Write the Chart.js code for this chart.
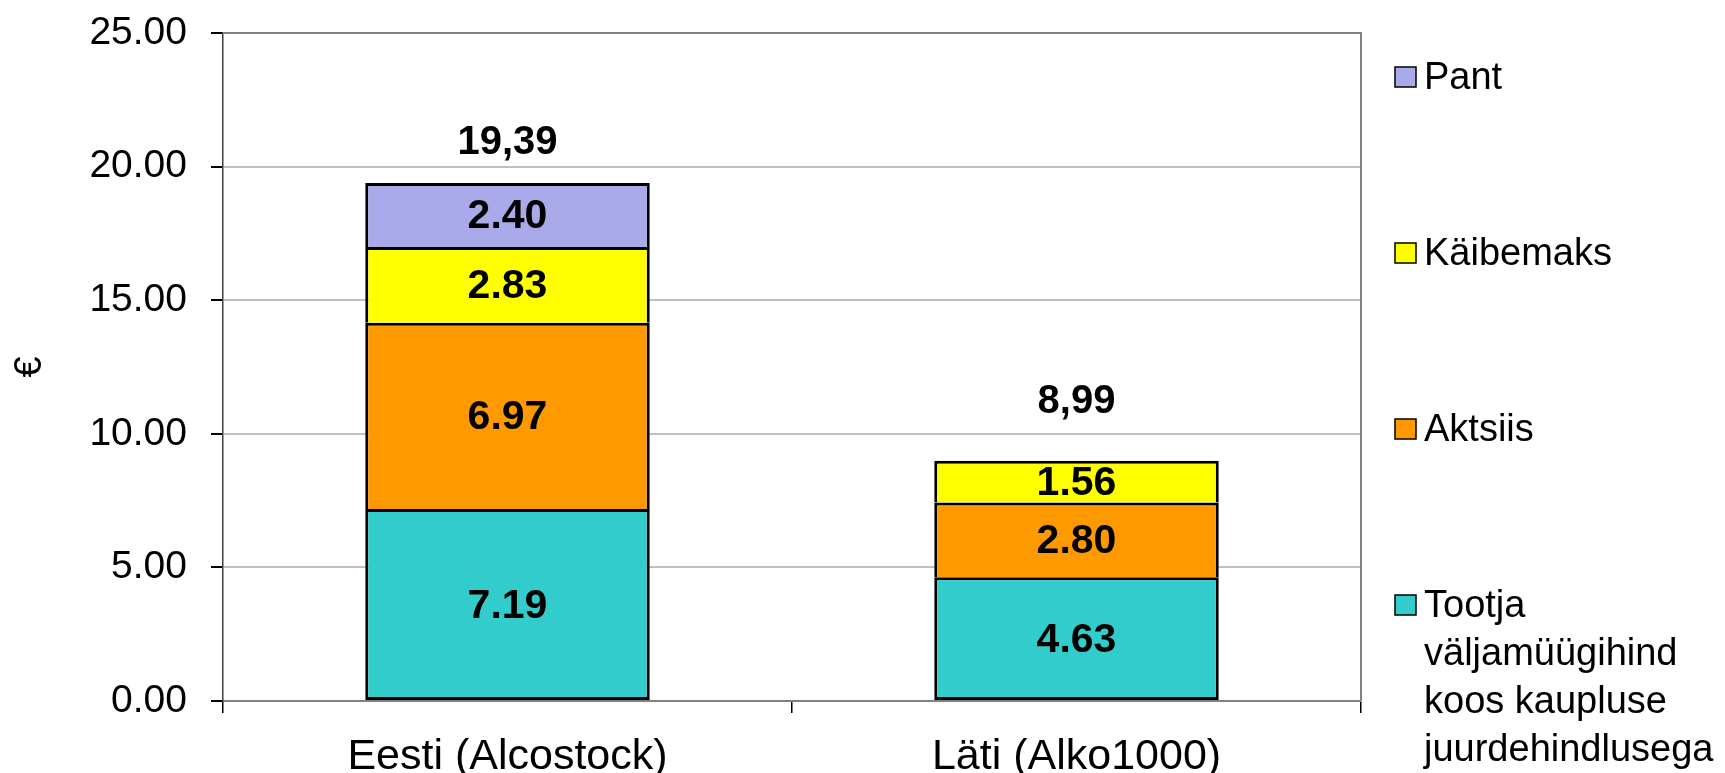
<!DOCTYPE html>
<html>
<head>
<meta charset="utf-8">
<script src="https://cdn.jsdelivr.net/npm/chart.js@4.4.1/dist/chart.umd.min.js"></script>
<style>
  html, body { margin: 0; padding: 0; background: #fff; }
  #wrap { width: 1725px; height: 773px; }
</style>
</head>
<body>
<div id="wrap"><canvas id="priceChart" width="1725" height="773"></canvas></div>
<script>
// categories and stacked parts (bottom to top)
const categories = ['Eesti (Alcostock)', 'Läti (Alko1000)'];
const tootja = [7.19, 4.63];
const aktsiis = [6.97, 2.80];
const kaibemaks = [2.83, 1.56];
const pant = [2.40, null];

const seriesNames = ['Tootja väljamüügihind koos kaupluse juurdehindlusega', 'Aktsiis', 'Käibemaks', 'Pant'];
const legendLines = [['Tootja', 'väljamüügihind', 'koos kaupluse', 'juurdehindlusega'], ['Aktsiis'], ['Käibemaks'], ['Pant']];
const seriesColors = ['#33CCCC', '#FF9900', '#FFFF00', '#AAAAEA'];

const yTicks = [0, 5, 10, 15, 20, 25];

const FONT = "'Liberation Sans', Arial, sans-serif";

// labels inside segments + totals above bars
const labelPlugin = {
    id: 'barLabels',
    afterDatasetsDraw(chart) {
        const ctx = chart.ctx;
        ctx.save();
        ctx.fillStyle = '#000';
        ctx.textAlign = 'center';
        ctx.textBaseline = 'middle';
        ctx.font = 'bold 41px ' + FONT;
        const tops = [];
        chart.data.datasets.forEach((ds, i) => {
            const meta = chart.getDatasetMeta(i);
            meta.data.forEach((bar, j) => {
                const v = ds.data[j];
                if (v == null) return;
                const mid = (bar.y + bar.base) / 2;
                ctx.fillText(v.toFixed(2), bar.x, mid + 2);
                if (tops[j] === undefined || bar.y < tops[j].y) tops[j] = { x: bar.x, y: bar.y };
            });
        });
        // totals, written with decimal comma
        const totalOffsets = [40, 59];
        ctx.font = 'bold 40px ' + FONT;
        tops.forEach((t, j) => {
            let sum = 0;
            chart.data.datasets.forEach(ds => { sum += ds.data[j] || 0; });
            ctx.fillText(sum.toFixed(2).replace('.', ','), t.x, t.y - totalOffsets[j]);
        });
        ctx.restore();
    }
};

// plot frame (top + right) and legend on the right side
const framePlugin = {
    id: 'frameAndLegend',
    beforeDatasetsDraw(chart) {
        const { ctx, chartArea: a } = chart;
        ctx.save();
        ctx.strokeStyle = '#808080';
        ctx.lineWidth = 2;
        ctx.beginPath();
        ctx.moveTo(a.left, a.top);
        ctx.lineTo(a.right, a.top);
        ctx.lineTo(a.right, a.bottom);
        ctx.stroke();
        ctx.restore();
    },
    afterDraw(chart) {
        const { ctx, chartArea: a } = chart;
        ctx.save();
        ctx.font = '38px ' + FONT;
        ctx.textBaseline = 'middle';
        ctx.textAlign = 'left';
        const boxX = a.right + 34;
        let y = a.top + 44;
        for (let i = seriesNames.length - 1; i >= 0; i--) {
            ctx.fillStyle = seriesColors[i];
            ctx.fillRect(boxX, y - 10, 21, 20);
            ctx.strokeStyle = '#000';
            ctx.lineWidth = 1.5;
            ctx.strokeRect(boxX, y - 10, 21, 20);
            ctx.fillStyle = '#000';
            legendLines[i].forEach((line, k) => {
                ctx.fillText(line, boxX + 29, y + 2 + k * 48);
            });
            y += 176;
        }
        ctx.restore();
    }
};

const ctx = document.getElementById('priceChart').getContext('2d');
const parts = [tootja, aktsiis, kaibemaks, pant];

new Chart(ctx, {
    type: 'bar',
    data: {
        labels: categories,
        datasets: parts.map((d, i) => ({
            label: seriesNames[i],
            data: d,
            backgroundColor: seriesColors[i],
            borderColor: '#000',
            borderWidth: 3,
            borderSkipped: i === 0 ? false : 'bottom',
            barPercentage: 0.5,
            categoryPercentage: 1.0
        }))
    },
    options: {
        responsive: false,
        devicePixelRatio: 1,
        animation: false,
        layout: { padding: { top: 33, right: 364, left: 0, bottom: 0 } },
        plugins: {
            legend: { display: false },
            tooltip: { enabled: false }
        },
        scales: {
            x: {
                stacked: true,
                afterFit: s => { s.height = 72; s.paddingLeft = 0; s.paddingRight = 0; },
                border: { color: '#808080', width: 2 },
                grid: {
                    offset: true,
                    drawOnChartArea: false,
                    tickLength: 12,
                    color: '#000',
                    lineWidth: 1.5
                },
                ticks: {
                    color: '#000',
                    padding: 18,
                    font: { family: FONT, size: 43 }
                }
            },
            y: {
                stacked: true,
                min: 0,
                max: 25,
                afterFit: s => { s.width = 223; s.paddingTop = 0; s.paddingBottom = 0; },
                afterBuildTicks: s => { s.ticks = yTicks.map(v => ({ value: v })); },
                border: { color: '#404040', width: 1.5 },
                grid: {
                    tickLength: 12,
                    tickColor: '#000',
                    lineWidth: 2,
                    color: c => (c.tick && c.tick.value === 25 ? '#808080' : '#C0C0C0')
                },
                ticks: {
                    color: '#000',
                    padding: 24,
                    font: { family: FONT, size: 39 },
                    callback: v => Number(v).toFixed(2)
                },
                title: {
                    display: true,
                    text: '€',
                    color: '#000',
                    font: { family: FONT, size: 38 },
                    padding: { top: 8 }
                }
            }
        }
    },
    plugins: [labelPlugin, framePlugin]
});
</script>
</body>
</html>
